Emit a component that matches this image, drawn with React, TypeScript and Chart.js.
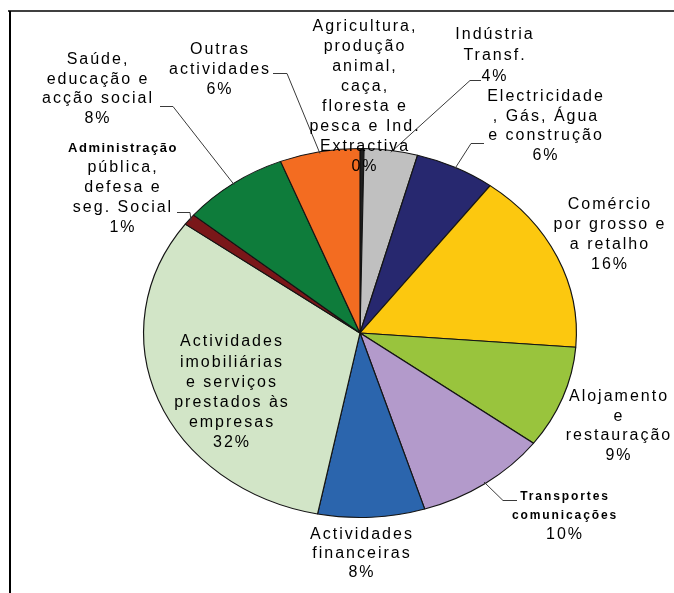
import { useEffect, useRef } from "react";
import { Chart, ArcElement, PieController } from "chart.js";

Chart.register(ArcElement, PieController);

// Sector names (line breaks as printed) and their shares of the total, in %
const categories = [
  "Agricultura,\nprodução\nanimal,\ncaça,\nfloresta e\npesca e Ind.\nExtractiva",
  "Indústria\nTransf.",
  "Electricidade\n, Gás, Água\ne construção",
  "Comércio\npor grosso e\na retalho",
  "Alojamento\ne\nrestauração",
  "Transportes\ncomunicações",
  "Actividades\nfinanceiras",
  "Actividades\nimobiliárias\ne serviços\nprestados às\nempresas",
  "Administração\npública,\ndefesa e\nseg. Social",
  "Saúde,\neducação e\nacção social",
  "Outras\nactividades",
];
const values = [0.3, 4, 6, 16, 9, 10, 8, 32, 1, 8, 6];
const colors = [
  "#1e1e1e",
  "#c0c0c0",
  "#27286f",
  "#fcc80f",
  "#99c43d",
  "#b39acb",
  "#2b65ad",
  "#d2e5c7",
  "#7a1719",
  "#0e7c3b",
  "#f36c21",
];

// Horizontal stretch of the pie (drawn as an ellipse)
const SX = 217 / 185;

// Label placement: centre x, first line centre y, line height, number of
// leading lines set in the smaller face
type LabelPos = { x: number; y: number; lh: number; small: number };
const labelPos: LabelPos[] = [
  { x: 364, y: 27, lh: 20, small: 0 },
  { x: 494, y: 35, lh: 21, small: 0 },
  { x: 545, y: 97, lh: 19.5, small: 0 },
  { x: 609, y: 205, lh: 20, small: 0 },
  { x: 618, y: 397, lh: 19.5, small: 0 },
  { x: 564, y: 497, lh: 19, small: 2 },
  { x: 361, y: 535, lh: 19, small: 0 },
  { x: 231, y: 342, lh: 20.2, small: 0 },
  { x: 122, y: 148, lh: 20, small: 1 },
  { x: 97, y: 60, lh: 19.5, small: 0 },
  { x: 219, y: 50, lh: 20, small: 0 },
];

// Leader lines: short horizontal stub (x0 -> x1 at y), then a line to the slice edge
type Leader = { i: number; x0: number; x1: number; y: number };
const leaders: Leader[] = [
  { i: 1, x0: 481, x1: 470, y: 80 },
  { i: 2, x0: 484, x1: 471, y: 143 },
  { i: 5, x0: 517, x1: 503, y: 500 },
  { i: 8, x0: 177, x1: 190, y: 212 },
  { i: 9, x0: 160, x1: 173, y: 106 },
  { i: 10, x0: 273, x1: 287, y: 73 },
];

const ellipsePlugin = {
  id: "ellipse",
  beforeDatasetsDraw(chart: any) {
    const ctx = chart.ctx;
    const a = chart.chartArea;
    const cx = (a.left + a.right) / 2;
    ctx.save();
    ctx.translate(cx, 0);
    ctx.scale(SX, 1);
    ctx.translate(-cx, 0);
  },
  afterDatasetsDraw(chart: any) {
    chart.ctx.restore();
  },
  afterDraw(chart: any) {
    const ctx: CanvasRenderingContext2D = chart.ctx;
    ctx.save();

    // frame
    ctx.strokeStyle = "#000";
    ctx.lineWidth = 1.5;
    ctx.beginPath();
    ctx.moveTo(8, 11);
    ctx.lineTo(674, 11);
    ctx.stroke();
    ctx.lineWidth = 2;
    ctx.beginPath();
    ctx.moveTo(10, 11);
    ctx.lineTo(10, 593);
    ctx.stroke();

    // leader lines
    const meta = chart.getDatasetMeta(0);
    ctx.lineWidth = 1;
    ctx.strokeStyle = "#3a3a3a";
    leaders.forEach((l) => {
      const arc = meta.data[l.i].getProps(["x", "y", "startAngle", "endAngle", "outerRadius"], true);
      const mid = (arc.startAngle + arc.endAngle) / 2;
      const r = arc.outerRadius * 0.99;
      const px = arc.x + SX * r * Math.cos(mid);
      const py = arc.y + r * Math.sin(mid);
      ctx.beginPath();
      ctx.moveTo(l.x0, l.y + 0.5);
      ctx.lineTo(l.x1, l.y + 0.5);
      ctx.lineTo(px, py);
      ctx.stroke();
    });

    // labels
    ctx.fillStyle = "#000";
    ctx.textAlign = "center";
    ctx.textBaseline = "middle";
    categories.forEach((name, i) => {
      const p = labelPos[i];
      const lines = [...name.split("\n"), `${Math.round(values[i])}%`];
      lines.forEach((line, k) => {
        const small = k < p.small;
        if (small) {
          ctx.font = i === 5 ? "bold 12px 'Liberation Sans', Arial, sans-serif" : "bold 13px 'Liberation Sans', Arial, sans-serif";
          (ctx as any).letterSpacing = i === 5 ? "1.9px" : "1.5px";
        } else {
          ctx.font = "16px 'Liberation Sans', Arial, sans-serif";
          (ctx as any).letterSpacing = "2px";
        }
        ctx.fillText(line, p.x + 1, p.y + k * p.lh);
      });
    });
    ctx.restore();
  },
};

export default function App() {
  const ref = useRef<HTMLCanvasElement | null>(null);

  useEffect(() => {
    if (!ref.current) return;
    const chart = new Chart(ref.current, {
      type: "pie",
      data: {
        labels: categories.map((c) => c.replace(/\n/g, " ")),
        datasets: [
          {
            data: values,
            backgroundColor: colors,
            borderColor: "#141414",
            borderWidth: 1,
            clip: false,
          } as any,
        ],
      },
      options: {
        responsive: false,
        animation: false,
        devicePixelRatio: 1,
        layout: { padding: { left: 175, right: 129, top: 148, bottom: 75 } },
        plugins: { legend: { display: false }, tooltip: { enabled: false } },
      },
      plugins: [ellipsePlugin],
    });
    return () => chart.destroy();
  }, []);

  return (
    <div style={{ position: "fixed", left: 0, top: 0, width: 674, height: 593, background: "#fff" }}>
      <canvas ref={ref} width={674} height={593} style={{ width: 674, height: 593, display: "block" }} />
    </div>
  );
}
